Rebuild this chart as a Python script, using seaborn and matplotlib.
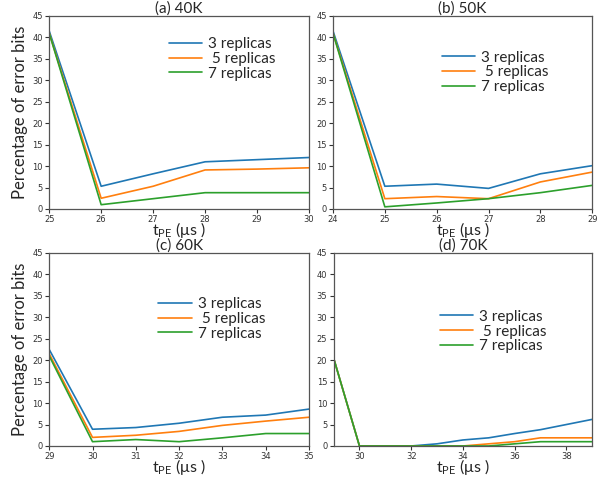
import matplotlib
matplotlib.use("Agg")
import matplotlib.pyplot as plt
import seaborn as sns
import pandas as pd

sns.set_style("ticks")
plt.rcParams['font.family'] = ['DejaVu Sans']
plt.rcParams['mathtext.fontset'] = 'custom'
plt.rcParams['mathtext.rm'] = 'Lato'
plt.rcParams['mathtext.it'] = 'Lato:italic'

series_labels = ["3 replicas", " 5 replicas", "7 replicas"]
colors = ["#1f77b4", "#ff7f0e", "#2ca02c"]

titles = ["(a) 40K", "(b) 50K", "(c) 60K", "(d) 70K"]

x_a = [25, 26, 27, 28, 29, 30]
a3 = [41.5, 5.3, 8.2, 11.0, 11.5, 12.0]
a5 = [41.0, 2.5, 5.3, 9.1, 9.3, 9.6]
a7 = [41.0, 1.0, 2.4, 3.8, 3.8, 3.8]

x_b = [24, 25, 26, 27, 28, 29]
b3 = [41.5, 5.3, 5.8, 4.8, 8.2, 10.1]
b5 = [41.0, 2.4, 2.9, 2.4, 6.3, 8.6]
b7 = [41.0, 0.5, 1.4, 2.4, 3.8, 5.5]

x_c = [29, 30, 31, 32, 33, 34, 35]
c3 = [22.5, 3.9, 4.3, 5.3, 6.7, 7.2, 8.6]
c5 = [21.5, 2.0, 2.5, 3.4, 4.8, 5.8, 6.7]
c7 = [21.0, 1.0, 1.5, 1.0, 1.9, 2.9, 2.9]

x_d = [29, 30, 31, 32, 33, 34, 35, 36, 37, 38, 39]
d3 = [20.5, 0, 0, 0, 0.5, 1.4, 1.9, 2.9, 3.8, 5.0, 6.2]
d5 = [20.5, 0, 0, 0, 0, 0, 0.5, 1.0, 1.9, 1.9, 1.9]
d7 = [20.5, 0, 0, 0, 0, 0, 0, 0.5, 1.0, 1.0, 1.0]

panels = [
    (x_a, [a3, a5, a7], x_a),
    (x_b, [b3, b5, b7], x_b),
    (x_c, [c3, c5, c7], x_c),
    (x_d, [d3, d5, d7], [30, 32, 34, 36, 38]),
]

positions = [
    [0.082, 0.5628, 0.433, 0.4038],
    [0.555, 0.5628, 0.432, 0.4038],
    [0.082, 0.067, 0.433, 0.4038],
    [0.556, 0.067, 0.431, 0.4038],
]
legend_anchor = [(0.43, 0.93), (0.39, 0.86), (0.39, 0.81), (0.38, 0.745)]

fig = plt.figure(figsize=(6.0, 4.78), dpi=100)
for i, (xs, ys, xt) in enumerate(panels):
    ax = fig.add_axes(positions[i])
    rows = []
    for lab, yv in zip(series_labels, ys):
        for xv, v in zip(xs, yv):
            rows.append({"x": xv, "y": v, "s": lab})
    df = pd.DataFrame(rows)
    sns.lineplot(data=df, x="x", y="y", hue="s", palette=colors,
                 hue_order=series_labels, ax=ax, linewidth=1.2, legend=True)
    ax.set_xlim(xs[0], xs[-1])
    ax.set_ylim(0, 45)
    ax.set_xticks(xt)
    ax.set_yticks(range(0, 46, 5))
    ax.tick_params(labelsize=6, length=3, width=0.8, colors="#333333", pad=1.5)
    for sp in ax.spines.values():
        sp.set_color("#555555")
        sp.set_linewidth(0.9)
    ax.set_title(titles[i], fontsize=11, family="Lato", pad=0.5)
    ax.set_xlabel(r"t$_{\mathrm{PE}}$ ($\mathrm{\mu}$s )", fontsize=11.5, family="Lato", labelpad=-3)
    if i % 2 == 0:
        ax.set_ylabel("Percentage of error bits", fontsize=12, family="Lato", labelpad=3)
    else:
        ax.set_ylabel("")
    h, l = ax.get_legend_handles_labels()
    ax.legend(h, l, loc="upper left", bbox_to_anchor=legend_anchor[i], frameon=False,
              prop={"family": "Lato", "size": 11}, borderpad=0, labelspacing=0.05,
              handlelength=2.2, handletextpad=0.4)

fig.savefig("out.png", dpi=100)
